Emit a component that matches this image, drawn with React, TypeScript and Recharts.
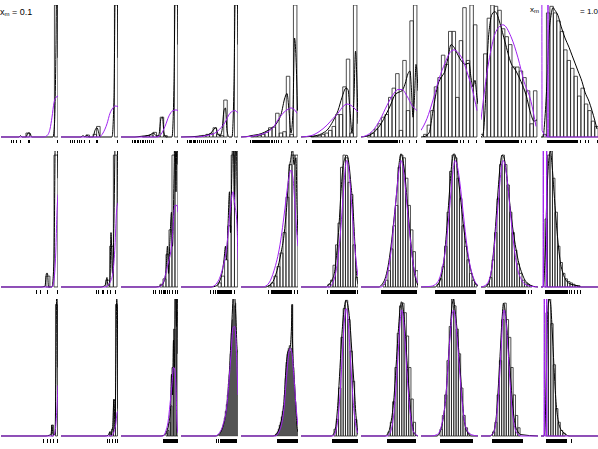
import { ComposedChart, Bar, Line, Scatter, XAxis, YAxis } from "recharts"

// 30 panels, read row by row (left to right). x is the offset inside a panel (0..57),
// y is the density scaled so that the tallest bar of a panel is about 1.

const histLo = [
  24.9375, 24.9375, 21.375, 14.25, 9.6875, 9.6875, 6.125, 2.5625, -1, 2,
  45, 45, 39, 37, 27, 27, 22, 16, 6, 4,
  50.5, 48.5, 45, 38, 34, 33, 27, 19, 11.5, 5,
]

const histWidth = [
  3.5625, 3.5625, 3.5625, 3.5625, 3.5625, 3.5625, 3.5625, 3.5625, 3.5625, 3.45,
  4, 3.7, 3, 3.3, 3, 2.5, 2.5, 2.5, 2.5, 2.5,
  2, 2, 1.5, 1, 1, 2.3, 2.3, 2.3, 2.3, 2.4,
]

const histCounts: number[][] = [
  [0.03, 0, 0, 0, 0, 0, 0, 0, 1],
  [0.015, 0, 0.02, 0.08, 0, 0, 0, 0, 1],
  [0.005, 0.01, 0.015, 0.035, 0.01, 0.15, 0.01, 0, 0, 1],
  [0.003, 0.006, 0.012, 0.02, 0.025, 0.07, 0.02, 0.01, 0.28, 0, 0, 1],
  [0.003, 0.006, 0.012, 0.02, 0.035, 0.07, 0.075, 0.18, 0.03, 0.04, 0.46, 0.02, 1],
  [0.003, 0.006, 0.01, 0.02, 0.03, 0.05, 0.08, 0.17, 0.17, 0.38, 0.59, 0.03, 1],
  [0.01, 0.03, 0.06, 0.1, 0.15, 0.17, 0.3, 0.37, 0.48, 0.05, 0.58, 0.2, 0.88, 1],
  [0.02, 0.09, 0.2, 0.38, 0.45, 0.62, 0.55, 0.8, 0.8, 0.3, 0.73, 0.98, 0.58, 1, 0.85],
  [0.02, 0.63, 0.9, 1, 0.99, 0.96, 0.82, 0.76, 0.7, 0.53, 0.53, 0.5, 0.45, 0.35, 0.1, 0.35],
  [0.02, 0.94, 0.99, 0.94, 0.88, 0.8, 0.66, 0.58, 0.52, 0.46, 0.31, 0.37, 0.25, 0.2, 0.12, 0.08],

  [0.08, 0, 0.97],
  [0.05, 0.3, 0.97],
  [0.02, 0.06, 0.24, 0.42, 0.97, 1],
  [0.03, 0.08, 0.2, 0.45, 0.97, 1],
  [0.01, 0.03, 0.08, 0.15, 0.25, 0.4, 0.66, 0.9, 0.97, 0.97],
  [0.02, 0.05, 0.16, 0.31, 0.47, 0.88, 0.97, 0.95, 0.77, 0.68, 0.31, 0.07],
  [0.02, 0.05, 0.12, 0.28, 0.45, 0.6, 0.88, 0.97, 0.95, 0.8, 0.6, 0.42, 0.26, 0.12],
  [0.02, 0.06, 0.15, 0.3, 0.55, 0.85, 0.97, 0.95, 0.8, 0.65, 0.45, 0.3, 0.2, 0.1, 0.05, 0.02],
  [0.02, 0.07, 0.2, 0.4, 0.65, 0.9, 0.97, 0.9, 0.75, 0.55, 0.4, 0.27, 0.17, 0.1, 0.05, 0.03, 0.02, 0.01],
  [0.5, 0.97, 1, 0.8, 0.55, 0.3, 0.18, 0.1, 0.06, 0.04, 0.03, 0.02, 0.01, 0.01],

  [0.08, 0, 0.96],
  [0.03, 0.05, 0.26, 0.96],
  [0.02, 0.04, 0.1, 0.22, 0.5, 0.78, 1, 0.9],
  [0.01, 0.02, 0.04, 0.06, 0.09, 0.13, 0.18, 0.23, 0.3, 0.38, 0.45, 0.6, 0.75, 0.85, 1, 0.95, 0.97, 0.62, 0.6],
  [0.01, 0.02, 0.03, 0.05, 0.08, 0.1, 0.14, 0.18, 0.22, 0.3, 0.42, 0.54, 0.6, 0.64, 0.66, 0.62, 0.64, 0.96, 0.5, 0.38, 0.25, 0.1, 0.04],
  [0.05, 0.12, 0.35, 0.72, 0.93, 0.99, 0.85, 0.62, 0.4, 0.12],
  [0.03, 0.1, 0.25, 0.5, 0.75, 0.95, 0.97, 0.9, 0.73, 0.5, 0.27, 0.1],
  [0.05, 0.15, 0.3, 0.55, 0.8, 1, 0.95, 0.78, 0.6, 0.35, 0.15, 0.06, 0.02],
  [0.03, 0.1, 0.3, 0.55, 0.85, 0.97, 0.85, 0.72, 0.5, 0.3, 0.15, 0.06],
  [0.9, 1, 0.82, 0.52, 0.2, 0.1, 0.04, 0.02],
]

// kernel density estimate (black)
const densityCurves: number[][][] = [
  [[0,0],[18,0],[19.5,0.01],[21,0],[25,0],[27,0.03],[29,0.03],[30.5,0],[52,0],[53.5,0.1],[55,0.7],[55.8,1.3],[56.5,1.3],[57,0.6]],
  [[0,0],[20,0],[22,0.01],[24,0],[26,0.015],[28,0],[32,0],[34,0.05],[36,0.07],[37.5,0.04],[39,0],[51,0],[53,0.3],[54.5,1.3],[56,1.3],[57,0.6]],
  [[0,0],[14,0],[20,0.005],[26,0.01],[30,0.02],[32,0.03],[34,0.02],[36,0.005],[38,0.02],[40,0.14],[41.5,0.15],[43,0.03],[45,0],[51,0],[53,0.4],[54.5,1.3],[56,1.3],[57,0.7]],
  [[0,0],[10,0.002],[20,0.008],[26,0.015],[30,0.03],[33,0.06],[35,0.07],[37,0.02],[39,0.01],[41,0.05],[43,0.2],[44.5,0.22],[46,0.05],[48,0],[51,0],[53,0.4],[54.5,1.2],[56,1.2],[57,0.7]],
  [[0,0],[5,0.002],[10,0.01],[20,0.025],[27,0.05],[33,0.08],[37,0.12],[40,0.17],[44,0.3],[46,0.33],[48,0.2],[50,0.03],[52,0.2],[53.5,0.75],[55,0.6],[56.5,0.2]],
  [[0,0],[8,0.003],[15,0.01],[22,0.03],[27,0.06],[32,0.12],[37,0.2],[41,0.3],[45,0.37],[47,0.36],[49,0.2],[51,0.03],[53,0.3],[54.5,0.65],[56,0.4],[57,0.1]],
  [[0,0],[5,0.005],[10,0.02],[15,0.05],[20,0.1],[25,0.17],[30,0.25],[34,0.32],[38,0.34],[41,0.35],[44,0.4],[47,0.48],[49,0.5],[50.5,0.35],[52,0.15],[53.5,0.3],[55,0.55],[57,0.35]],
  [[0,0],[4,0.005],[8,0.03],[12,0.2],[17,0.4],[21,0.46],[24,0.5],[27,0.6],[30,0.7],[33,0.68],[37,0.62],[41,0.57],[44,0.55],[48,0.56],[50,0.45],[52,0.38],[54,0.43],[56,0.3],[57,0.25]],
  [[0,0],[2,0.02],[4,0.2],[5.5,0.45],[7,0.7],[9,0.86],[11,0.93],[14,0.95],[16,0.93],[19,0.86],[24,0.72],[30,0.56],[35,0.5],[40,0.42],[45,0.32],[50,0.17],[53,0.12],[56,0.13]],
  [[0,0],[2,0],[4,0.15],[6,0.42],[8,0.78],[10,0.92],[12,0.98],[14,0.96],[17,0.92],[20,0.84],[24,0.75],[28,0.68],[31,0.62],[34,0.56],[37,0.5],[41,0.42],[44,0.34],[48,0.27],[51,0.2],[54,0.12],[56,0.06]],

  [[0,0],[40,0],[44,0.005],[45.5,0.1],[46.5,0.1],[47.5,0],[51,0],[53,0.2],[54.5,1.2],[56,1.2],[57,0.8]],
  [[0,0],[40,0],[44,0.01],[46,0.07],[47,0.01],[49,0.05],[50,0.4],[51.5,0.1],[53,0.5],[54.5,1.2],[56,1.2],[57,0.6]],
  [[0,0],[35,0],[40,0.01],[43,0.04],[45,0.12],[46.5,0.3],[47.5,0.1],[49,0.35],[50.5,0.55],[51.5,0.3],[53,0.8],[54,1.2],[55,0.7],[56,1.2],[57,0.9]],
  [[0,0],[30,0],[36,0.01],[39,0.05],[41,0.1],[43,0.2],[44.5,0.3],[45.5,0.2],[47,0.45],[48.5,0.7],[49.5,0.4],[51,0.9],[52,1.2],[53.5,0.6],[55,1.2],[56,0.75],[57,0.3]],
  [[0,0],[25,0],[28,0.01],[32,0.04],[36,0.12],[40,0.25],[43,0.38],[46,0.62],[48,0.85],[50,0.95],[51.5,1.02],[53,0.9],[55,0.95],[56,0.6],[57,0.38]],
  [[0,0],[25,0],[28,0.02],[31,0.05],[34,0.13],[36,0.27],[38,0.45],[40,0.7],[42,0.88],[44,0.95],[46,0.97],[48,0.9],[50,0.75],[52,0.58],[54,0.3],[55.5,0.1],[57,0.02]],
  [[0,0],[18,0],[21,0.02],[24,0.06],[27,0.15],[30,0.3],[33,0.5],[36,0.72],[38,0.9],[40,0.98],[42,0.93],[44,0.82],[46,0.65],[48,0.48],[50,0.32],[52,0.18],[54,0.08],[56,0.03],[57,0.01]],
  [[0,0],[14,0],[17,0.02],[20,0.07],[23,0.2],[26,0.45],[29,0.75],[31,0.92],[33,0.98],[35,0.95],[37,0.82],[40,0.62],[43,0.42],[46,0.27],[49,0.15],[52,0.07],[55,0.02],[57,0.01]],
  [[0,0],[4,0],[7,0.02],[10,0.1],[13,0.3],[16,0.6],[19,0.88],[21,0.97],[23,0.95],[26,0.8],[29,0.6],[32,0.42],[35,0.28],[38,0.17],[41,0.1],[44,0.05],[48,0.02],[52,0.005],[57,0]],
  [[0,0],[2,0],[4,0.2],[6,0.7],[8,0.95],[9.5,1],[11,0.9],[13,0.7],[15,0.5],[17,0.33],[19,0.2],[22,0.1],[25,0.05],[30,0.02],[36,0.01],[40,0],[57,0]],

  [[0,0],[45,0],[48,0.005],[50,0.01],[51,0.08],[52,0.01],[54,0.01],[55,0.5],[56,1.3],[56.7,1.3],[57,0.5]],
  [[0,0],[44,0],[47,0.005],[49,0.03],[50,0.005],[51.5,0.05],[53,0.27],[54,0.05],[55,0.6],[55.7,1],[56.4,0.9],[57,0.2]],
  [[0,0],[40,0],[44,0.01],[46,0.04],[48,0.1],[49.5,0.2],[50.5,0.45],[51.5,0.3],[52.5,0.7],[53.5,0.5],[54.5,1.2],[55.5,0.8],[56.3,1.2],[57,0.6]],
  [[0,0],[35,0],[38,0.01],[41,0.05],[44,0.13],[46,0.23],[48,0.42],[49,0.55],[50,0.7],[51,0.85],[52,1],[53,1.1],[54,1],[55,0.85],[56,0.65],[57,0.6]],
  [[0,0],[32,0],[35,0.01],[38,0.05],[41,0.14],[43,0.25],[45,0.5],[47,0.62],[49,0.64],[50.5,0.8],[51,0.96],[51.5,0.7],[53,0.45],[55,0.2],[56,0.07],[57,0.03]],
  [[0,0],[30,0],[33,0.02],[35,0.08],[37,0.25],[39,0.5],[41,0.75],[43,0.92],[45,0.99],[47,0.95],[49,0.82],[51,0.6],[53,0.38],[55,0.15],[56.5,0.04],[57,0.01]],
  [[0,0],[24,0],[27,0.02],[30,0.1],[33,0.28],[35,0.5],[37,0.73],[39,0.92],[40.5,0.98],[42,0.94],[44,0.78],[46,0.55],[48,0.33],[50,0.15],[52,0.05],[54,0.01],[57,0]],
  [[0,0],[16,0],[19,0.03],[22,0.12],[25,0.3],[27,0.52],[29,0.75],[31,0.95],[32.5,1],[34,0.92],[36,0.78],[38,0.6],[40,0.4],[42,0.2],[44,0.08],[47,0.02],[50,0],[57,0]],
  [[0,0],[9,0],[12,0.02],[15,0.12],[17,0.32],[19,0.58],[21,0.85],[22.5,0.97],[24,0.92],[26,0.78],[28,0.58],[30,0.38],[32,0.2],[34,0.09],[37,0.03],[40,0.01],[57,0]],
  [[0,0],[3,0],[5,0.3],[6.5,0.85],[8,1],[9.5,0.97],[11,0.8],[13,0.5],[15,0.25],[17,0.12],[19,0.06],[22,0.03],[25,0.01],[28,0],[57,0]],
]

// fitted density (purple)
const fitCurves: number[][][] = [
  [[0,0],[43,0],[46,0.01],[49,0.06],[51,0.15],[53,0.26],[55,0.3],[57,0.31]],
  [[0,0],[38,0],[42,0.03],[46,0.1],[49,0.18],[52,0.22],[54,0.235],[57,0.23]],
  [[0,0],[36,0],[40,0.02],[44,0.08],[48,0.16],[52,0.2],[55,0.205],[57,0.2]],
  [[0,0],[15,0],[25,0.01],[34,0.03],[40,0.07],[44,0.11],[49,0.18],[54,0.2],[57,0.18]],
  [[0,0],[10,0.005],[20,0.02],[27,0.04],[32,0.07],[37,0.13],[42,0.18],[47,0.21],[50,0.22],[53,0.21],[56,0.18]],
  [[0,0],[10,0.01],[18,0.04],[26,0.09],[32,0.14],[37,0.18],[42,0.23],[46,0.25],[50,0.24],[53,0.22],[57,0.19]],
  [[0,0],[5,0.01],[12,0.05],[19,0.13],[26,0.24],[32,0.32],[37,0.36],[41,0.36],[46,0.31],[51,0.24],[56,0.2]],
  [[0,0.05],[6,0.14],[12,0.28],[18,0.44],[24,0.56],[29,0.64],[33,0.66],[37,0.64],[42,0.58],[47,0.47],[51,0.37],[56,0.2]],
  [[0,0.13],[4,0.38],[10,0.66],[15,0.8],[22,0.85],[30,0.76],[37,0.6],[43,0.42],[50,0.27],[55,0.08]],
  [[0.8,1.5],[1.1,0.05],[6.7,0],[7,1.5],[7.3,0],[57,0]],

  [[0,0],[51,0],[53,0.05],[55,0.3],[56,0.55],[57,0.68]],
  [[0,0],[44,0],[48,0.02],[50,0.05],[52,0.11],[54,0.3],[55.5,0.55],[57,0.62]],
  [[0,0],[38,0],[42,0.03],[46,0.14],[51,0.33],[54,0.6],[56,0.6],[57,0.55]],
  [[0,0],[30,0],[36,0.03],[41,0.12],[46,0.31],[49,0.55],[52,0.7],[54,0.6],[56,0.46],[57,0.2]],
  [[0,0],[22,0],[28,0.03],[33,0.12],[39,0.31],[44,0.58],[47,0.76],[50,0.86],[52,0.8],[54,0.6],[56,0.38],[57,0.3]],
  [[0,0],[28,0],[31,0.02],[34,0.08],[36,0.16],[38,0.28],[40,0.45],[42,0.65],[44,0.85],[45.5,0.93],[47,0.9],[49,0.77],[51,0.57],[53,0.37],[55,0.2],[57,0.08]],
  [[0,0],[20,0],[24,0.04],[27,0.12],[30,0.26],[33,0.48],[36,0.72],[38,0.86],[40,0.93],[42,0.88],[44,0.76],[46,0.6],[49,0.37],[52,0.18],[55,0.07],[57,0.03]],
  [[0,0],[10,0.005],[16,0.03],[20,0.1],[24,0.25],[27,0.45],[30,0.7],[32,0.85],[34,0.93],[36,0.9],[39,0.76],[42,0.56],[45,0.36],[48,0.2],[51,0.1],[54,0.04],[57,0.01]],
  [[0,0],[4,0.01],[8,0.05],[11,0.15],[14,0.35],[17,0.6],[20,0.85],[22,0.93],[24,0.9],[27,0.73],[30,0.5],[33,0.3],[36,0.15],[40,0.06],[44,0.02],[50,0.005],[57,0]],
  [[0,0],[2,0],[2.3,1.5],[2.6,0],[5.4,0],[5.7,1.5],[6,0],[57,0]],

  [[0,0],[52,0],[54,0.03],[55.5,0.15],[57,0.37]],
  [[0,0],[50,0],[53,0.03],[55,0.1],[56,0.17],[57,0.18]],
  [[0,0],[42,0],[45,0.04],[47,0.1],[49,0.23],[51,0.38],[52.5,0.5],[54,0.48],[55,0.35],[56,0.1],[57,0.02]],
  [[0,0],[34,0],[38,0.02],[42,0.08],[46,0.23],[48,0.4],[50,0.59],[52,0.79],[53.5,0.8],[55,0.7],[56,0.5],[57,0.3]],
  [[0,0],[34,0],[38,0.03],[41,0.1],[43,0.2],[45,0.38],[47,0.55],[49,0.64],[51,0.6],[53,0.42],[55,0.22],[57,0.08]],
  [[0,0],[32,0],[35,0.04],[37,0.13],[39,0.3],[41,0.55],[43,0.8],[45,0.93],[47,0.85],[49,0.62],[51,0.38],[53,0.18],[55,0.07],[57,0.02]],
  [[0,0],[26,0],[29,0.02],[31,0.07],[33,0.17],[35,0.35],[37,0.58],[39,0.82],[40.5,0.92],[42,0.88],[44,0.7],[46,0.46],[48,0.26],[50,0.12],[52,0.04],[55,0.01],[57,0]],
  [[0,0],[10,0],[16,0.01],[19,0.04],[22,0.13],[25,0.3],[27,0.5],[29,0.72],[31,0.88],[32.5,0.92],[34,0.88],[36,0.73],[38,0.54],[40,0.35],[42,0.19],[44,0.09],[47,0.03],[50,0.01],[57,0]],
  [[0,0],[8,0],[11,0.01],[14,0.06],[16,0.17],[18,0.36],[20,0.62],[22,0.88],[23,0.92],[25,0.83],[27,0.63],[29,0.4],[31,0.2],[33,0.09],[36,0.02],[40,0],[57,0]],
  [[0,0],[3,0],[3.3,1.5],[3.6,0],[5.4,0],[5.7,1.5],[6,0],[57,0]],
]

// rug of the raw observations under each panel
const rugMarks: number[][] = [
  [10,12,15,19,27,28,56],
  [9,11,13,16,18,20,23,28,35,36,56],
  [11,13,14,16,17,19,21,22,24,26,28,30,32,41,56],
  [6,8,9,10,12,13,14,16,18,20,22,24,26,28,30,33,36,42,44,55],
  [9,11,12,13,14,15,16,17,18,19,20,21,22,23,24,25,26,27,28,30,31,33,35,37,40,47,56],
  [5,11,12,13,14,15,16,17,18,19,20,21,22,23,24,25,26,27,28,29,30,31,32,33,34,35,36,37,38,39,42,46,49,55],
  [7,8,9,10,11,12,13,14,15,16,17,18,19,20,21,22,23,24,25,26,27,28,29,30,31,32,33,34,35,36,38,41,48,55],
  [5,6,7,8,9,10,11,12,13,14,15,16,17,18,19,20,21,22,23,24,25,26,27,28,29,30,31,32,33,34,35,36,39,42,47,55],
  [4,5,6,7,8,9,10,11,12,13,14,15,16,17,18,19,20,21,22,23,24,25,26,27,28,29,30,31,32,33,34,35,36,37,40,44,50,55],
  [6,7,8,9,10,11,12,13,14,15,16,17,18,19,20,21,22,23,24,25,26,27,28,29,30,31,32,33,34,35,36,39,44,47,56],

  [35,39,46,56],
  [35,37,41,42,46,49,54],
  [32,34,38,40,42,43,44,46,48,51,54,56],
  [29,32,34,36,37,38,39,40,41,42,43,44,45,46,47,48,49,50,53],
  [27,30,31,32,33,34,35,36,37,38,39,40,41,42,43,44,45,46,47,48,49,50,53,56],
  [26,29,30,31,32,33,34,35,36,37,38,39,40,41,42,43,44,45,46,47,48,49,50,51,52,53,54,56],
  [20,21,22,23,24,25,26,27,28,29,30,31,32,33,34,35,36,37,38,39,40,41,42,43,44,45,46,47,48,49,50,51,52,53,54,55],
  [14,15,16,17,18,19,20,21,22,23,24,25,26,27,28,29,30,31,32,33,34,35,36,37,38,39,40,41,42,43,44,45,46,47,48,49,50,51,52,53,54],
  [4,5,6,7,8,9,10,11,12,13,14,15,16,17,18,19,20,21,22,23,24,25,26,27,28,29,30,31,32,33,34,35,36,37,38,39,40,41,42,43,44,47,50],
  [4,5,6,7,8,9,10,11,12,13,14,15,16,17,18,19,20,21,22,23,24,25,26,28,30,33,36,39],

  [42,46,49,52,56],
  [46,48,51,54,56],
  [42,43,44,45,46,47,48,49,50,51,52,53,54,55,56],
  [35,37,39,40,41,42,43,44,45,46,47,48,49,50,51,52,53,54,55],
  [36,37,38,39,40,41,42,43,44,45,46,47,48,49,50,51,52,53,54,55,56],
  [31,32,33,34,35,36,37,38,39,40,41,42,43,44,45,46,47,48,49,50,51,52,53,54,55,56],
  [26,27,28,29,30,31,32,33,34,35,36,37,38,39,40,41,42,43,44,45,46,47,48,49,50,51,52,53,54],
  [19,20,21,22,23,24,25,26,27,28,29,30,31,32,33,34,35,36,37,38,39,40,41,42,43,44,45,46,47,48,49,50,51],
  [11,12,13,14,15,16,17,18,19,20,21,22,23,24,25,26,27,28,29,30,31,32,33,34,35,36,37,38,39,40,41],
  [5,6,7,8,9,10,11,12,13,14,15,16,17,18,19,20,21,22,23,24,25,30],
]

const xmFirst = "0.1"
const xmLast = "1.0"

const PANEL_W = 57
const X_MAX = 57
const Y_MIN = -0.075
const RUG_Y = -0.035
const rowBase = [137, 287, 436]
const rowSpan = [132, 136, 137]
const PURPLE = "#a020f0"
const MARGIN = { top: 0, right: 0, bottom: 0, left: 0 }

function RugTick(props: any) {
  const { cx, cy } = props
  return (
    <line x1={cx + 0.5} x2={cx + 0.5} y1={cy - 1.8} y2={cy + 1.8} stroke="#000" strokeWidth={1} shapeRendering="crispEdges" />
  )
}

function Panel({ i }: { i: number }) {
  const row = Math.floor(i / 10)
  const col = i % 10
  const w = histWidth[i]
  const bins = histCounts[i].map((c, j) => ({ x: histLo[i] + (j + 0.5) * w, count: c }))
  const dens = densityCurves[i].map(([x, y]) => ({ x, y }))
  const fit = fitCurves[i].map(([x, y]) => ({ x, y }))
  const rug = rugMarks[i].map((x) => ({ x, y: RUG_Y }))
  const span = rowSpan[row]
  const height = span * (1 - Y_MIN)
  const narrow = w <= 1 // very fine breaks render as a grey mass

  // histogram and curves live in two stacked charts so the bar band size
  // comes from the bin spacing only
  return (
    <div style={{ position: "absolute", left: 1 + col * 60, top: rowBase[row] - span, width: PANEL_W, height }}>
      <div style={{ position: "absolute", left: 0, top: 0 }}>
        <ComposedChart width={PANEL_W} height={height} data={bins} margin={MARGIN} barGap={0} barCategoryGap={0}>
          <XAxis type="number" dataKey="x" domain={[0, X_MAX]} hide allowDataOverflow />
          <YAxis type="number" domain={[Y_MIN, 1]} hide allowDataOverflow />
          <Bar
            dataKey="count"
            barSize={(w * PANEL_W) / X_MAX * 0.98}
            fill={narrow ? "#707070" : "none"}
            stroke={narrow ? "#3a3a3a" : "#222"}
            strokeWidth={narrow ? 0.4 : 0.8}
            isAnimationActive={false}
          />
        </ComposedChart>
      </div>
      <div style={{ position: "absolute", left: 0, top: 0 }}>
        <ComposedChart width={PANEL_W} height={height} margin={MARGIN}>
          <XAxis type="number" dataKey="x" domain={[0, X_MAX]} hide allowDataOverflow />
          <YAxis type="number" domain={[Y_MIN, 1]} hide allowDataOverflow />
          <Line data={dens} dataKey="y" type="monotone" stroke="#000" strokeWidth={1} dot={false} isAnimationActive={false} />
          <Line data={fit} dataKey="y" type="monotone" stroke={PURPLE} strokeWidth={1} dot={false} isAnimationActive={false} />
          <Scatter data={rug} dataKey="y" shape={RugTick} isAnimationActive={false} />
        </ComposedChart>
      </div>
    </div>
  )
}

const labelStyle: React.CSSProperties = {
  position: "absolute",
  fontFamily: "'Liberation Sans', Arial, sans-serif",
  fontSize: 8,
  lineHeight: "10px",
  color: "#000",
  whiteSpace: "nowrap",
}
const subStyle: React.CSSProperties = { fontSize: 6, verticalAlign: "-1px" }

export default function App() {
  return (
    <div style={{ position: "absolute", left: 0, top: 0, width: 598, height: 449, background: "#fff", overflow: "hidden" }}>
      {histCounts.map((_, i) => (
        <Panel key={i} i={i} />
      ))}
      <div style={{ ...labelStyle, left: 0, top: 7, fontSize: 9 }}>
        x<span style={subStyle}>m</span> = {xmFirst}
      </div>
      <div style={{ ...labelStyle, left: 530, top: 5 }}>
        x<span style={subStyle}>m</span>
      </div>
      <div style={{ ...labelStyle, left: 580, top: 7 }}>= {xmLast}</div>
    </div>
  )
}
